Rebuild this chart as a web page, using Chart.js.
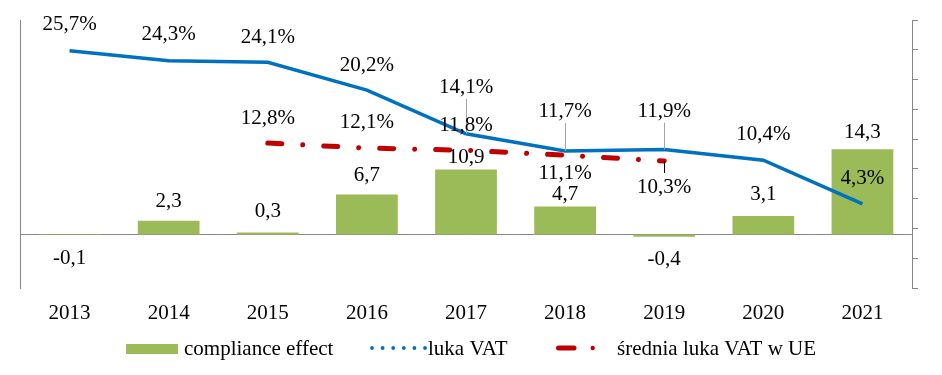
<!DOCTYPE html>
<html><head><meta charset="utf-8">
<script src="https://cdn.jsdelivr.net/npm/chart.js@4"></script>
<style>html,body{margin:0;padding:0;background:#fff}</style>
</head><body>
<canvas id="c" width="942" height="375"></canvas>
<script>
// ---- data ----
const years = ['2013', '2014', '2015', '2016', '2017', '2018', '2019', '2020', '2021'];
const complianceEffect = [-0.1, 2.3, 0.3, 6.7, 10.9, 4.7, -0.4, 3.1, 14.3];
const lukaVat = [25.7, 24.3, 24.1, 20.2, 14.1, 11.7, 11.9, 10.4, 4.3];
const sredniaLukaUE = [null, null, 12.8, 12.1, 11.8, 11.1, 10.3, null, null];
const seriesNames = ['compliance effect', 'luka VAT', 'średnia luka VAT w UE'];

// ---- label styling (offsets relative to the mark, px) ----
const barLabelDy = [23, -19, -21, -19, -12, -12, 23, -21, -17];
const blueLabelDy = [-26, -26, -25, -25, -46, -39, -38, -26, -25];
const redLabelDy = [0, 0, -25, -26, -25, 18, 27, 0, 0];
const blueLeader = [false, false, false, false, true, true, true, false, false];
const redLeader = [false, false, false, false, false, false, true, false, false];

const FONT = '"Liberation Serif", "Times New Roman", serif';
const FS = 21;
const GREEN = '#9BBB59', BLUE = '#0070C0', RED = '#C00000', GREY = '#868686';

const fmt = v => v.toFixed(1).replace('.', ',');

const labelPlugin = {
  id: 'labels',
  afterDatasetsDraw(chart) {
    const ctx = chart.ctx;
    ctx.save();
    ctx.font = FS + 'px ' + FONT;
    ctx.fillStyle = '#000';
    ctx.textAlign = 'center';
    ctx.textBaseline = 'middle';
    const metaBar = chart.getDatasetMeta(0);
    const metaBlue = chart.getDatasetMeta(1);
    const metaRed = chart.getDatasetMeta(2);
    // leaders
    ctx.lineWidth = 1;
    metaBlue.data.forEach((el, i) => {
      if (!blueLeader[i]) return;
      const ly = el.y + blueLabelDy[i];
      ctx.strokeStyle = '#A6A6A6';
      ctx.beginPath();
      ctx.moveTo(Math.round(el.x) + 0.5, ly + 11);
      ctx.lineTo(Math.round(el.x) + 0.5, el.y);
      ctx.stroke();
    });
    metaRed.data.forEach((el, i) => {
      if (!redLeader[i] || sredniaLukaUE[i] == null) return;
      const ly = el.y + redLabelDy[i];
      ctx.strokeStyle = '#000';
      ctx.beginPath();
      ctx.moveTo(Math.round(el.x) + 0.5, el.y);
      ctx.lineTo(Math.round(el.x) + 0.5, ly - 15);
      ctx.stroke();
    });
    metaBar.data.forEach((el, i) => {
      ctx.fillText(fmt(complianceEffect[i]), el.x, el.y + barLabelDy[i]);
    });
    metaBlue.data.forEach((el, i) => {
      ctx.fillText(fmt(lukaVat[i]) + '%', el.x, el.y + blueLabelDy[i]);
    });
    metaRed.data.forEach((el, i) => {
      if (sredniaLukaUE[i] == null) return;
      ctx.fillText(fmt(sredniaLukaUE[i]) + '%', el.x, el.y + redLabelDy[i]);
    });
    ctx.restore();
  },
  afterDraw(chart) {
    const ctx = chart.ctx;
    ctx.save();
    const ly = 348;
    // compliance effect
    ctx.fillStyle = GREEN;
    ctx.fillRect(126, 344, 52, 10);
    // luka VAT dots
    ctx.fillStyle = BLUE;
    for (let k = 0; k < 6; k++) {
      ctx.beginPath();
      ctx.arc(372 + k * 10.6, ly, 1.9, 0, Math.PI * 2);
      ctx.fill();
    }
    // srednia dash-dot
    ctx.strokeStyle = RED;
    ctx.lineWidth = 5;
    ctx.lineCap = 'round';
    ctx.beginPath();
    ctx.moveTo(558.5, ly); ctx.lineTo(574, ly);
    ctx.stroke();
    ctx.fillStyle = RED;
    ctx.beginPath();
    ctx.arc(592.7, ly, 2.2, 0, Math.PI * 2);
    ctx.fill();
    ctx.fillStyle = '#000';
    ctx.font = FS + 'px ' + FONT;
    ctx.textAlign = 'left';
    ctx.textBaseline = 'middle';
    ctx.fillText(seriesNames[0], 184, ly + 1);
    ctx.fillText(seriesNames[1], 428, ly + 1);
    ctx.fillText(seriesNames[2], 617, ly + 1);
    ctx.restore();
  }
};

new Chart(document.getElementById('c'), {
  data: {
    labels: years,
    datasets: [
      {
        type: 'bar', label: seriesNames[0], data: complianceEffect,
        backgroundColor: GREEN, yAxisID: 'yB',
        barPercentage: 0.623, categoryPercentage: 1, order: 3
      },
      {
        type: 'line', label: seriesNames[1], data: lukaVat,
        borderColor: BLUE, borderWidth: 3.5, pointRadius: 0, tension: 0,
        yAxisID: 'yL', order: 1
      },
      {
        type: 'line', label: seriesNames[2], data: sredniaLukaUE,
        borderColor: RED, borderWidth: 5, pointRadius: 0, tension: 0,
        borderDash: [14, 21, 0.01, 21], borderCapStyle: 'round',
        yAxisID: 'yL', order: 2
      }
    ]
  },
  options: {
    responsive: false,
    animation: false,
    layout: { padding: { top: 20, left: 0, right: 0, bottom: 0 } },
    plugins: { legend: { display: false }, tooltip: { enabled: false } },
    scales: {
      x: {
        grid: { display: false, drawTicks: false },
        border: { display: false },
        ticks: { font: { family: FONT, size: FS }, color: '#000', padding: 13, maxRotation: 0, autoSkip: false },
        afterFit: s => { s.height = 87; }
      },
      yL: {
        type: 'linear', position: 'left', min: -7.45, max: 30,
        ticks: { display: false, stepSize: 5 },
        grid: {
          drawTicks: false,
          color: c => (c.tick && c.tick.value === 0) ? GREY : 'rgba(0,0,0,0)'
        },
        border: { display: true, color: GREY },
        afterFit: s => { s.width = 20; }
      },
      yB: {
        type: 'linear', position: 'right', min: -9, max: 36,
        ticks: { display: false, stepSize: 5 },
        grid: { drawOnChartArea: false, drawTicks: true, tickLength: 6, color: GREY },
        border: { display: true, color: GREY },
        afterFit: s => { s.width = 30; }
      }
    }
  },
  plugins: [labelPlugin]
});
</script>
</body></html>
